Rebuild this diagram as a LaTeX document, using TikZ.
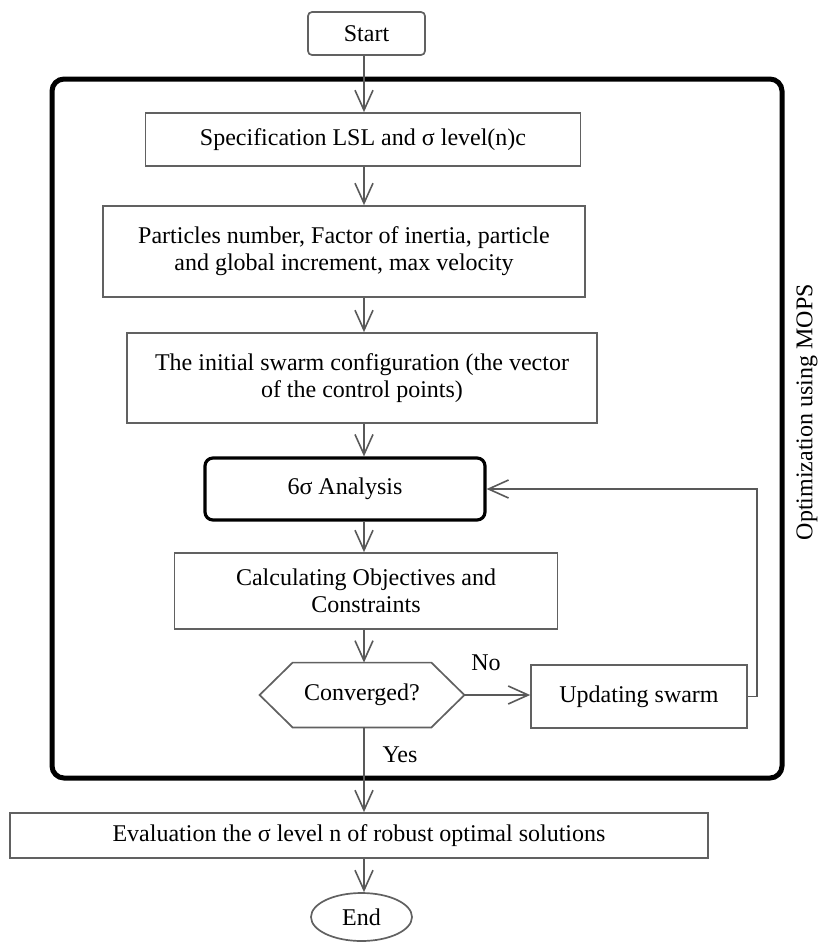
\documentclass[tikz,border=0pt]{standalone}
\usepackage{fontspec}
\setmainfont{Liberation Serif}
\usetikzlibrary{arrows.meta,shapes.geometric}

\tikzset{
  box/.style={draw=black!62, line width=0.85pt, inner sep=2pt, align=center},
  arr/.style={draw=black!65, line width=0.8pt, -{Straight Barb[length=10pt,width=9pt]}},
  lbl/.style={inner sep=0pt}
}

\begin{document}
\begin{tikzpicture}[x=0.5pt, y=-0.5pt, font=\fontsize{12}{13.5}\selectfont]
      \useasboundingbox (0,0) rectangle (819,944);
      \draw[line width=2.5pt, rounded corners=6pt] (52,79) rectangle (782,778);
      \coordinate (ax) at (364,0);
      \node[box, rounded corners=2pt, minimum width=58.5pt, minimum height=21.5pt] (start) at (366.5,33.5) {Start};
      \node[box, minimum width=217.5pt, minimum height=26.5pt] (spec) at (363,139.5) {Specification LSL and σ level(n)c};
      \node[box, minimum width=241pt, minimum height=45.5pt] (param) at (344,251.5) {Particles number, Factor of inertia, particle\\and global increment, max velocity};
      \node[box, minimum width=235pt, minimum height=45pt] (init) at (362,378) {The initial swarm configuration (the vector\\of the control points)};
      \node[box, draw=black, line width=1.6pt, rounded corners=4pt, minimum width=140pt, minimum height=31pt] (anal) at (345,489) {6σ Analysis};
      \node[box, minimum width=191.5pt, minimum height=38pt] (calc) at (366,591) {Calculating Objectives and\\Constraints};
      \node[lbl, minimum width=102pt, minimum height=32pt] (conv) at (362,695) {Converged?};
      \draw[box] (conv.west) -- ([xshift=16.5pt]conv.north west) -- ([xshift=-16.5pt]conv.north east)
        -- (conv.east) -- ([xshift=-16.5pt]conv.south east) -- ([xshift=16.5pt]conv.south west) -- cycle;
      \node[box, minimum width=108pt, minimum height=31.5pt] (upd) at (639,696.5) {Updating swarm};
      \node[box, minimum width=349pt, minimum height=22.5pt] (eval) at (359,835.5) {Evaluation the σ level n of robust optimal solutions};
      \node[box, ellipse, minimum width=50.5pt, minimum height=24pt] (end) at (361.5,917) {End};
      \node[lbl, rotate=90] (mops) at (807,412) {Optimization using MOPS};
      \node[lbl] (no) at (486,663) {No};
      \node[lbl] (yes) at (400,755) {Yes};
      \draw[arr] (ax |- start.south) -- (ax |- spec.north);
      \draw[arr] (ax |- spec.south) -- (ax |- param.north);
      \draw[arr] (ax |- param.south) -- (ax |- init.north);
      \draw[arr] (ax |- init.south) -- (ax |- anal.north);
      \draw[arr] (ax |- anal.south) -- (ax |- calc.north);
      \draw[arr] (ax |- calc.south) -- (ax |- conv.north);
      \draw[arr] (conv.east) -- (conv.east -| upd.west);
      \draw[arr] (upd.east) -- ++(9,0) |- (anal.east);
      \draw[arr] (ax |- conv.south) -- (ax |- eval.north);
      \draw[arr] (ax |- eval.south) -- (ax |- end.north);
    \end{tikzpicture}
\end{document}
